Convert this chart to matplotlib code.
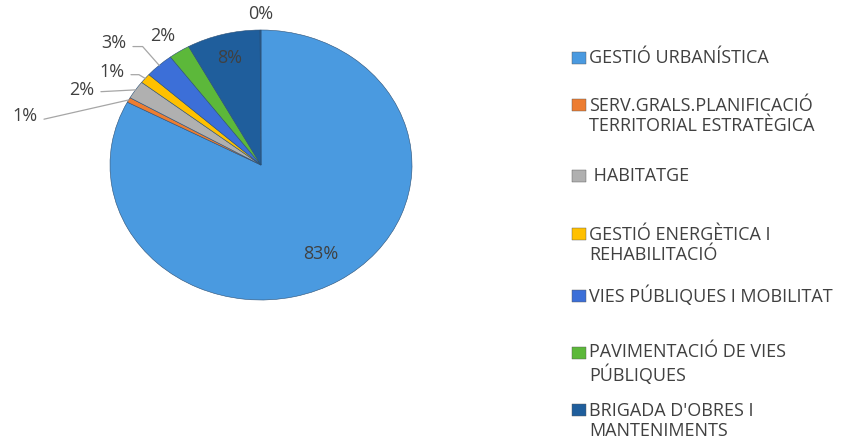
import numpy as np
import matplotlib.pyplot as plt
from matplotlib.patches import Rectangle

plt.rcParams['font.family'] = ['Open Sans', 'DejaVu Sans']

categories = ["GESTIÓ URBANÍSTICA",
              "SERV.GRALS.PLANIFICACIÓ\nTERRITORIAL ESTRATÈGICA",
              " HABITATGE",
              "GESTIÓ ENERGÈTICA I\nREHABILITACIÓ",
              "VIES PÚBLIQUES I MOBILITAT",
              "PAVIMENTACIÓ DE VIES\nPÚBLIQUES",
              "BRIGADA D'OBRES I\nMANTENIMENTS",
              ""]
values = [83.2, 0.6, 2.2, 1.2, 3.1, 2.3, 7.9, 0.1]
colors = ['#4a9ae0', '#ed7d31', '#b0b0b0', '#ffc000', '#3c6fd8', '#5cb83a', '#1f5e9c', '#1f5e9c']
pct_labels = ['%d%%' % round(v) for v in values]

txt_col = '#404040'
line_col = '#a6a6a6'

fig = plt.figure(figsize=(8.44, 4.45), dpi=100)
ax = fig.add_axes([110/844, 1 - 300/445, 302/844, 270/445])

wedges, _ = ax.pie(values, colors=colors, startangle=90, counterclock=False,
                   wedgeprops=dict(edgecolor='#2a4f75', linewidth=0.4))
ax.set_aspect('auto')
ax.set_xlim(-1, 1)
ax.set_ylim(-1, 1)
ax.axis('off')

def mid(w):
    return np.deg2rad((w.theta1 + w.theta2) / 2)

# inside labels
for i, r in [(0, 0.77), (6, 0.82)]:
    a = mid(wedges[i])
    ax.text(r*np.cos(a), r*np.sin(a), pct_labels[i], ha='center', va='center',
            fontsize=13, color=txt_col)

# labels with leader lines: slice -> (x, y, relpos_y, angle of last segment)
leader = {1: (-1.483, 0.363, 0.3, 12.8),
          2: (-1.106, 0.556, 0.35, 3),
          3: (-0.907, 0.689, 0.35, -31),
          4: (-0.894, 0.904, 0.3, -48.6)}
for i, (tx, ty, ry, angB) in leader.items():
    a = mid(wedges[i])
    ax.annotate(pct_labels[i], xy=(np.cos(a), np.sin(a)), xytext=(tx, ty),
                ha='right', va='center', fontsize=13, color=txt_col,
                arrowprops=dict(arrowstyle='-', color=line_col, lw=0.9,
                                shrinkA=3, shrinkB=0, relpos=(1, ry),
                                connectionstyle='angle,angleA=0,angleB=%g,rad=0' % angB))

# plain labels outside
for i, (tx, ty) in {5: (-0.649, 0.956), 7: (0.0, 1.119)}.items():
    ax.text(tx, ty, pct_labels[i], ha='center', va='center',
            fontsize=13, color=txt_col)

# legend
leg_y = [58, 116, 176, 245, 296, 364, 421]
for k in range(7):
    y = 1 - leg_y[k]/445
    nl = categories[k].count('\n')
    ytop = y + nl*0.5*22/445
    fig.patches.append(Rectangle((572/844, ytop - 6/445), 14/844, 12/445,
                                 transform=fig.transFigure, facecolor=colors[k],
                                 edgecolor='#555555', linewidth=0.3))
    fig.text(589/844, y, categories[k], ha='left', va='center', fontsize=13,
             color=txt_col, linespacing=1.2)

fig.savefig('out.png', dpi=100)
